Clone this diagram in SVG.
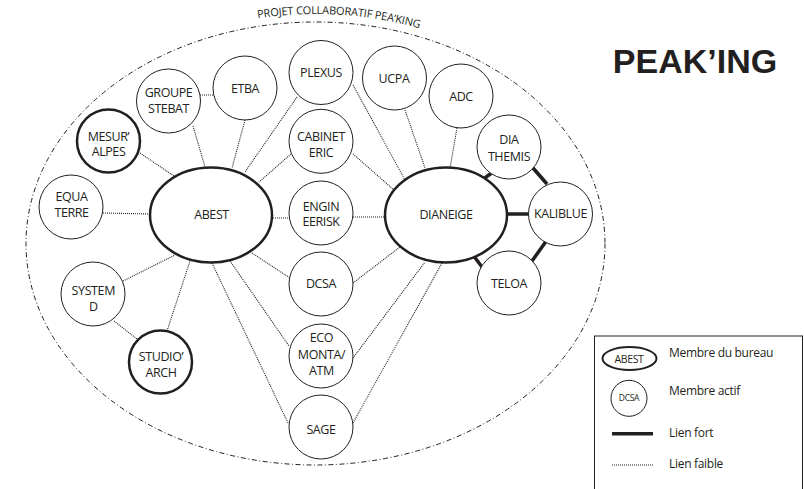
<svg xmlns="http://www.w3.org/2000/svg" width="804" height="489" viewBox="0 0 804 489">
<style>
.n{fill:#fff;stroke:#231f20;stroke-width:1}
.b{fill:#fff;stroke:#231f20;stroke-width:2.5}
.t{font-family:"Open Sans","Liberation Sans",sans-serif;font-size:12.5px;fill:#231f20;text-anchor:middle;letter-spacing:-0.4px}
.w{stroke:#231f20;stroke-width:1.1;stroke-dasharray:1 1;fill:none}
.s{stroke:#231f20;stroke-width:3.5;fill:none}
.l{font-family:"Open Sans","Liberation Sans",sans-serif;font-size:12px;fill:#231f20;letter-spacing:-0.3px}
</style>
<defs>
<path id="arc" d="M18 243.5 A297.5 229.5 0 0 1 613 243.5"/>
</defs>
<rect width="804" height="489" fill="#fff"/>
<g id="projet">
<ellipse cx="315.5" cy="243.5" rx="289.5" ry="221.5" fill="none" stroke="#231f20" stroke-width="1" stroke-dasharray="5 2.5 1 2.5"/>
<text font-family="'Open Sans','Liberation Sans',sans-serif" font-size="11" fill="#231f20" text-anchor="middle" letter-spacing="-0.2"><textPath href="#arc" startOffset="439">PROJET COLLABORATIF PEA’KING</textPath></text>
</g>
<g id="connectors">
<line class="w" x1="200" y1="95" x2="213" y2="95"/>
<line class="w" x1="193" y1="126" x2="205" y2="167"/>
<line class="w" x1="245" y1="120" x2="232" y2="168"/>
<line class="w" x1="297" y1="97" x2="245" y2="172"/>
<line class="w" x1="140" y1="153" x2="174" y2="176"/>
<line class="w" x1="291" y1="154" x2="259" y2="182"/>
<line class="w" x1="103" y1="213" x2="150" y2="214"/>
<line class="w" x1="290" y1="218" x2="272" y2="218"/>
<line class="w" x1="353" y1="85" x2="405" y2="180"/>
<line class="w" x1="353" y1="154" x2="394" y2="190"/>
<line class="w" x1="353" y1="217" x2="385" y2="217"/>
<line class="w" x1="405" y1="110" x2="425" y2="168"/>
<line class="w" x1="457" y1="128" x2="450" y2="168"/>
<line class="w" x1="353" y1="283" x2="400" y2="247"/>
<line class="w" x1="353" y1="358" x2="425" y2="262"/>
<line class="w" x1="353" y1="423" x2="442" y2="263"/>
<line class="w" x1="252" y1="253" x2="290" y2="278"/>
<line class="w" x1="230" y1="261" x2="289" y2="346"/>
<line class="w" x1="212" y1="263" x2="288" y2="423"/>
<line class="w" x1="123" y1="281" x2="175" y2="255"/>
<line class="w" x1="167" y1="331" x2="190" y2="261"/>
<line class="w" x1="114" y1="321" x2="137" y2="339"/>
<line class="s" x1="482" y1="180" x2="493" y2="172"/>
<line class="s" x1="533" y1="168" x2="547" y2="184"/>
<line class="s" x1="506" y1="214" x2="529" y2="214"/>
<line class="s" x1="473" y1="255" x2="482" y2="267"/>
<line class="s" x1="547" y1="240" x2="532" y2="261"/>
</g>
<g id="abest"><ellipse class="b" cx="211" cy="215" rx="61" ry="47.5"/><text class="t" x="211.5" y="219">ABEST</text></g>
<g id="dianeige"><ellipse class="b" cx="446" cy="215" rx="61" ry="47.5"/><text class="t" x="446" y="218.5">DIANEIGE</text></g>
<g id="groupe-stebat"><circle class="n" cx="168.5" cy="101" r="32"/><text class="t" x="168.5" y="97">GROUPE</text><text class="t" x="168.5" y="112.5">STEBAT</text></g>
<g id="etba"><circle class="n" cx="245" cy="88" r="32"/><text class="t" x="245" y="92.7">ETBA</text></g>
<g id="plexus"><circle class="n" cx="321" cy="72.5" r="32"/><text class="t" x="321" y="77.3">PLEXUS</text></g>
<g id="ucpa"><circle class="n" cx="394.5" cy="78" r="32"/><text class="t" x="394" y="82.7">UCPA</text></g>
<g id="adc"><circle class="n" cx="461" cy="96" r="32"/><text class="t" x="461" y="101">ADC</text></g>
<g id="diathemis"><circle class="n" cx="509" cy="147" r="32"/><text class="t" x="509" y="144">DIA</text><text class="t" x="509" y="160.5">THEMIS</text></g>
<g id="kaliblue"><circle class="n" cx="560.5" cy="214" r="32"/><text class="t" x="560.5" y="218.3">KALIBLUE</text></g>
<g id="teloa"><circle class="n" cx="509" cy="283" r="32"/><text class="t" x="509" y="288.3">TELOA</text></g>
<g id="mesuralpes"><circle class="b" cx="108.5" cy="141" r="31.5"/><text class="t" x="108.5" y="140.5">MESUR’</text><text class="t" x="108.5" y="156">ALPES</text></g>
<g id="cabineteric"><circle class="n" cx="321" cy="141.3" r="32"/><text class="t" x="321" y="140.5">CABINET</text><text class="t" x="321" y="156.5">ERIC</text></g>
<g id="equaterre"><circle class="n" cx="71" cy="207" r="32"/><text class="t" x="71.5" y="201">EQUA</text><text class="t" x="71.5" y="216.5">TERRE</text></g>
<g id="engineerisk"><circle class="n" cx="321" cy="213" r="32"/><text class="t" x="321" y="210.5">ENGIN</text><text class="t" x="321" y="226">EERISK</text></g>
<g id="dcsa"><circle class="n" cx="321" cy="284" r="32"/><text class="t" x="321" y="288.3">DCSA</text></g>
<g id="systemd"><circle class="n" cx="93" cy="294" r="32"/><text class="t" x="93.3" y="294.5">SYSTEM</text><text class="t" x="93.3" y="310.5">D</text></g>
<g id="studioarch"><circle class="b" cx="160.5" cy="362" r="31.5"/><text class="t" x="161" y="361">STUDIO’</text><text class="t" x="161" y="377">ARCH</text></g>
<g id="ecomonta"><circle class="n" cx="321" cy="356" r="32"/><text class="t" x="321.5" y="341.7">ECO</text><text class="t" x="321.5" y="359">MONTA/</text><text class="t" x="321.5" y="375">ATM</text></g>
<g id="sage"><circle class="n" cx="321" cy="427" r="32"/><text class="t" x="321" y="434.3">SAGE</text></g>
<g id="title"><text x="695" y="73" font-family="'Liberation Sans',Arial,sans-serif" font-weight="bold" font-size="34" fill="#231f20" text-anchor="middle">PEAK’ING</text></g>
<g id="legend">
<rect x="594.5" y="336" width="208" height="170" fill="none" stroke="#231f20" stroke-width="1"/>
<ellipse cx="629.5" cy="358.5" rx="27" ry="11.5" fill="#fff" stroke="#231f20" stroke-width="2"/>
<text x="629" y="362.7" font-family="'Open Sans','Liberation Sans',sans-serif" font-size="10.5" fill="#231f20" text-anchor="middle" letter-spacing="-0.4">ABEST</text>
<circle cx="629" cy="398.3" r="18" fill="#fff" stroke="#231f20" stroke-width="1"/>
<text x="629" y="401" font-family="'Open Sans','Liberation Sans',sans-serif" font-size="8.5" fill="#231f20" text-anchor="middle" letter-spacing="-0.3">DCSA</text>
<line x1="612" y1="433.7" x2="653" y2="433.7" stroke="#231f20" stroke-width="3.5"/>
<line class="w" x1="612" y1="465" x2="653" y2="465"/>
<text class="l" x="669" y="356.7">Membre du bureau</text>
<text class="l" x="669" y="395">Membre actif</text>
<text class="l" x="669" y="436.7">Lien fort</text>
<text class="l" x="669" y="468.3">Lien faible</text>
</g>
</svg>
